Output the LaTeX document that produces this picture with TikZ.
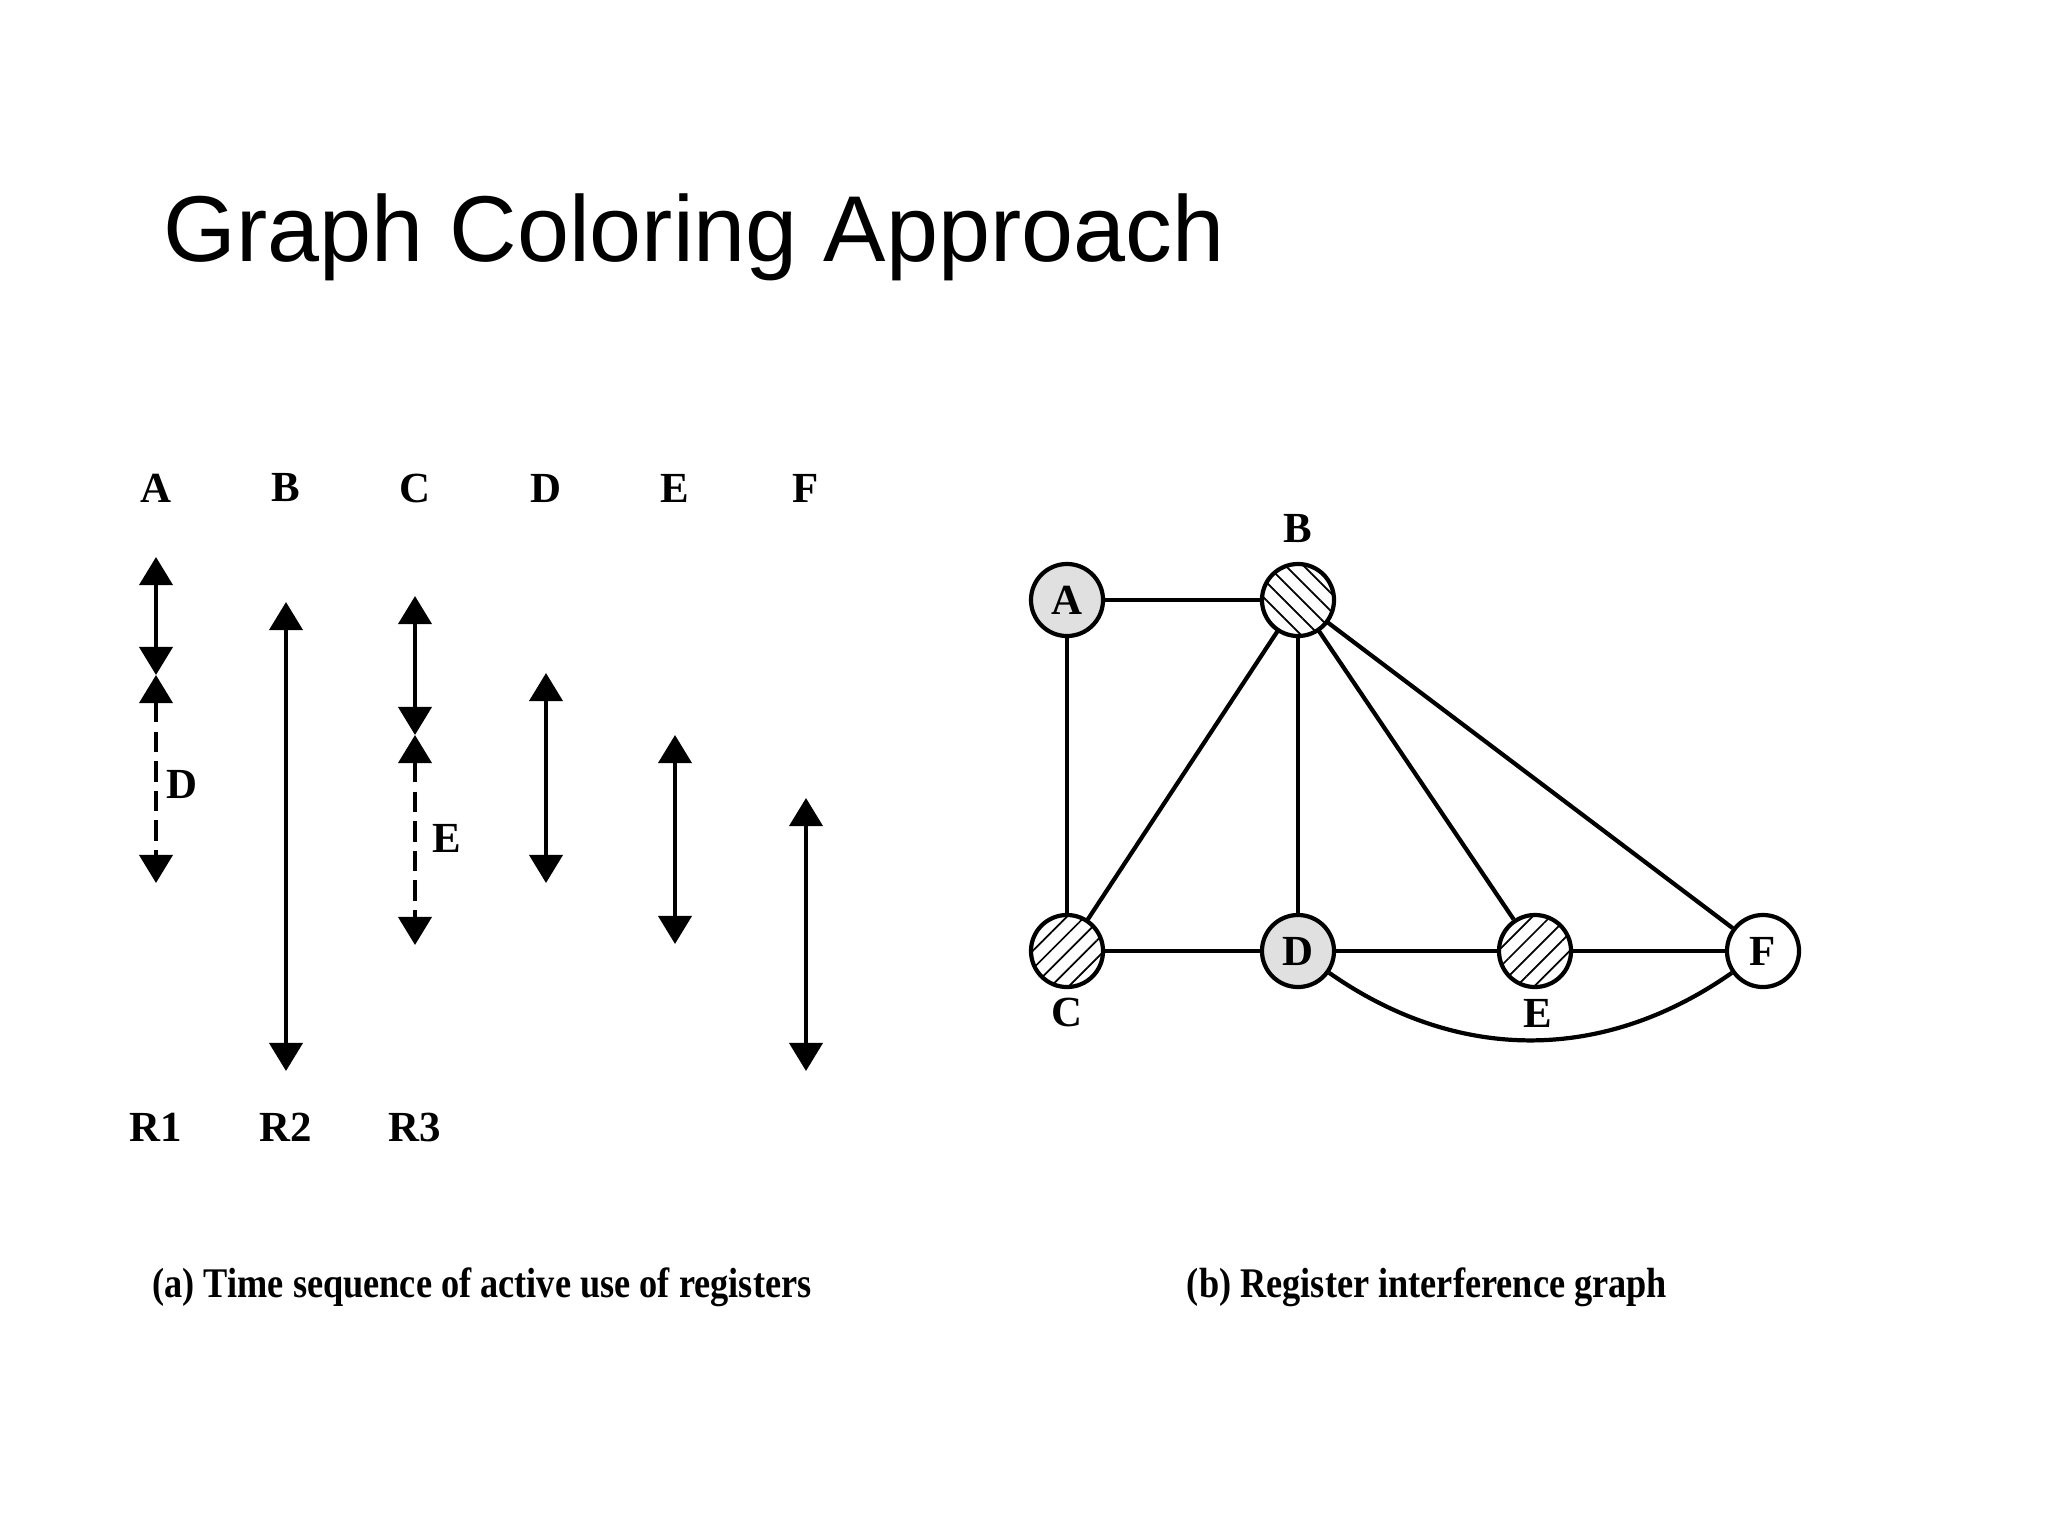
\documentclass[tikz,border=0pt]{standalone}
\usepackage{fontspec}
\setmainfont{Liberation Serif}
\newfontfamily\titlefont{Liberation Sans}
\usetikzlibrary{arrows.meta,patterns.meta}
\begin{document}
\begin{tikzpicture}[x=0.01cm,y=-0.01cm,
  lbl/.style={font=\fontsize{12.2}{14}\selectfont\bfseries, inner sep=0pt},
  life/.style={line width=1.2pt, {Triangle[width=9.4pt,length=8pt]}-{Triangle[width=9.4pt,length=8pt]}},
  dlife/.style={life, dash pattern=on 5.8pt off 2.6pt},
  vtx/.style={circle, draw, line width=1.2pt, minimum size=0.72cm, inner sep=0pt, font=\fontsize{12.2}{14}\selectfont\bfseries},
  hatchne/.style={pattern={Lines[angle=45,distance=3.6pt,line width=0.5pt]}},
  hatchnw/.style={pattern={Lines[angle=-45,distance=3.6pt,line width=0.5pt]}},
  edge/.style={line width=1.2pt},
  captxt/.style={font=\fontsize{12}{14}\selectfont\bfseries, inner sep=0pt}
]
\useasboundingbox[fill=white] (0,0) rectangle (2048,1536);

% title
\node[anchor=base west, inner sep=0pt, font=\titlefont\fontsize{26.6}{30}\selectfont] (title) at (163,261) {Graph Coloring Approach};

% column labels
\node[lbl] (la) at (156,488) {A};
\node[lbl] (lb) at (286,488) {B};
\node[lbl] (lc) at (415,488) {C};
\node[lbl] (ld) at (546,488) {D};
\node[lbl] (le) at (675,488) {E};
\node[lbl] (lf) at (806,488) {F};

% lifetimes
\coordinate (a1) at (156,557); \coordinate (a2) at (156,675); \coordinate (a3) at (156,883);
\draw[life] (a1) -- (a2);
\draw[dlife] (a2) -- (a3);
\node[lbl] (dlab) at (182,784) {D};

\coordinate (b1) at (286,602); \coordinate (b2) at (286,1071);
\draw[life] (b1) -- (b2);

\coordinate (c1) at (415,596); \coordinate (c2) at (415,735); \coordinate (c3) at (415,945);
\draw[life] (c1) -- (c2);
\draw[dlife] (c2) -- (c3);
\node[lbl] (elab) at (447,838) {E};

\coordinate (d1) at (546,673); \coordinate (d2) at (546,883);
\draw[life] (d1) -- (d2);
\coordinate (e1) at (675,735); \coordinate (e2) at (675,944);
\draw[life] (e1) -- (e2);
\coordinate (f1) at (806,798); \coordinate (f2) at (806,1071);
\draw[life] (f1) -- (f2);

% register labels
\node[lbl] (r1) at (156,1127) {R1};
\node[lbl] (r2) at (286,1127) {R2};
\node[lbl] (r3) at (415,1127) {R3};

% graph
\node[vtx, fill=black!12] (A) at (1067,600) {A};
\node[vtx, hatchnw] (B) at (1298,600) {};
\node[vtx, hatchne] (C) at (1067,951) {};
\node[vtx, fill=black!12] (D) at (1298,951) {D};
\node[vtx, hatchne] (E) at (1535,951) {};
\node[vtx, fill=white] (F) at (1763,951) {F};
\node[lbl] (Bl) at (1298,529) {B};
\node[lbl] (Cl) at (1067,1012) {C};
\node[lbl] (El) at (1538,1013) {E};

\draw[edge] (A) -- (B);
\draw[edge] (A) -- (C);
\draw[edge] (B) -- (C);
\draw[edge] (B) -- (D);
\draw[edge] (B) -- (E);
\draw[edge] (B) -- (F);
\draw[edge] (C) -- (D);
\draw[edge] (D) -- (E);
\draw[edge] (E) -- (F);
\draw[edge] (D) to[out=-35,in=-145] (F);

% captions
\node[captxt] (capa) at (482,1287) {\scalebox{0.86}[1]{(a) Time sequence of active use of registers}};
\node[captxt] (capb) at (1427,1287) {\scalebox{0.86}[1]{(b) Register interference graph}};
\end{tikzpicture}
\end{document}
